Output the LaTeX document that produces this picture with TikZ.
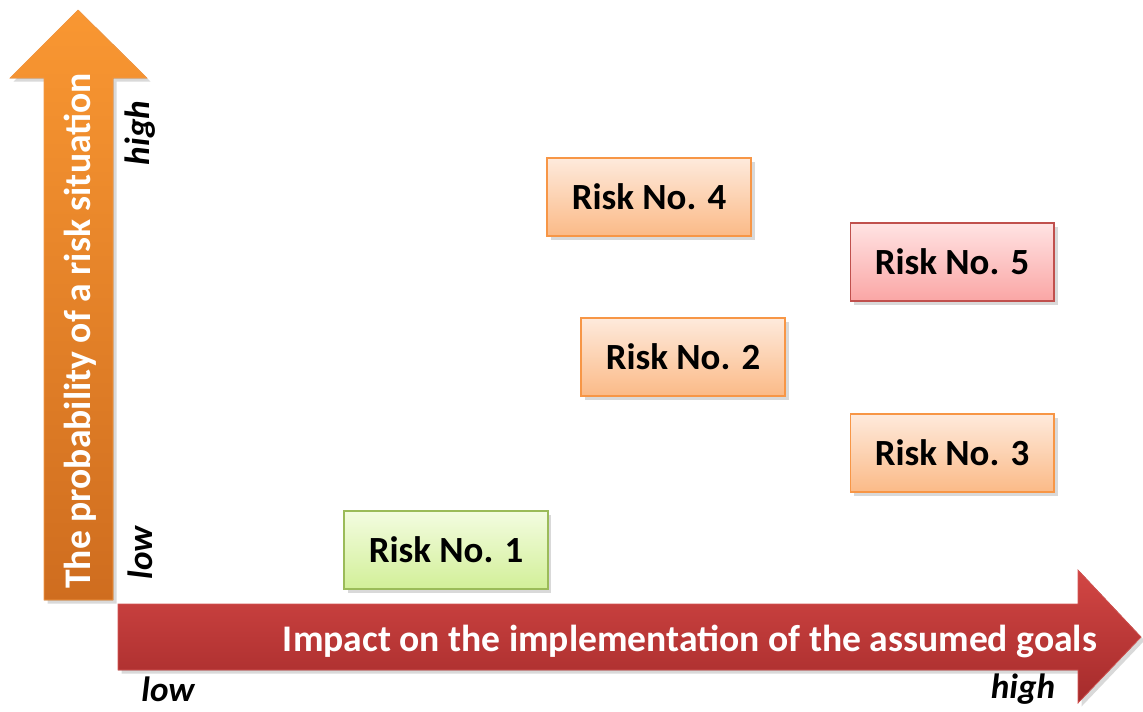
\documentclass[tikz,border=0pt]{standalone}
\usepackage{fontspec}
\setmainfont{Carlito}
\usetikzlibrary{shadows}
\definecolor{probtop}{HTML}{F99732}
\definecolor{probbot}{HTML}{CF6D1F}
\definecolor{probline}{HTML}{F59A45}
\definecolor{impacttop}{HTML}{D24644}
\definecolor{impactbot}{HTML}{A52B2B}
\definecolor{impactline}{HTML}{D45553}
\definecolor{orangeline}{HTML}{F79646}
\definecolor{orangetop}{HTML}{FEEADC}
\definecolor{orangebot}{HTML}{FBBA87}
\definecolor{redline}{HTML}{C0504D}
\definecolor{redtop}{HTML}{FFE3E3}
\definecolor{redbot}{HTML}{FAA6A5}
\definecolor{greenline}{HTML}{9BBB59}
\definecolor{greentop}{HTML}{F3FCE0}
\definecolor{greenbot}{HTML}{D2EF98}

\begin{document}
\begin{tikzpicture}[
   x=0.02cm,y=-0.02cm,
   shade/.style={drop shadow={shadow xshift=2pt,shadow yshift=-2pt,opacity=.3}},
   risk/.style={draw,semithick,shade,minimum width=4.08cm,minimum height=1.56cm,font=\fontsize{21}{25}\selectfont\bfseries},
   lowrisk/.style={risk,draw=greenline,top color=greentop,bottom color=greenbot},
   midrisk/.style={risk,draw=orangeline,top color=orangetop,bottom color=orangebot},
   highrisk/.style={risk,draw=redline,top color=redtop,bottom color=redbot},
   axis/.style={text=white,font=\fontsize{21.4}{25}\selectfont\bfseries},
   level/.style={font=\fontsize{20}{24}\selectfont\bfseries\itshape}]
\useasboundingbox (0,0) rectangle (1143,711);
% axes
\filldraw[shade,draw=probline,top color=probtop,bottom color=probbot]
   (44,600) -- (44,78) -- (10,78) -- (78,10) -- (147,78) -- (113,78) -- (113,600) -- cycle;
\filldraw[shade,draw=impactline,top color=impacttop,bottom color=impactbot]
   (118,604) -- (1078,604) -- (1078,570) -- (1141,637) -- (1078,703) -- (1078,670) -- (118,670) -- cycle;
\node[axis,rotate=90] (prob) at (80,331) {The probability of a risk situation};
\node[axis] (impact) at (690,641) {Impact on the implementation of the assumed goals};
\node[level,rotate=90] (probhigh) at (140,133) {high};
\node[level,rotate=90] (problow) at (140,553) {low};
\node[level] (impactlow) at (168,689) {low};
\node[level] (impacthigh) at (1023,689) {high};
% risks
\node[lowrisk] (risk1) at (446,550) {Risk No. 1};
\node[midrisk] (risk2) at (683,357) {Risk No. 2};
\node[midrisk] (risk3) at (952,453) {Risk No. 3};
\node[midrisk] (risk4) at (649,197) {Risk No. 4};
\node[highrisk] (risk5) at (952,262) {Risk No. 5};
\end{tikzpicture}
\end{document}
